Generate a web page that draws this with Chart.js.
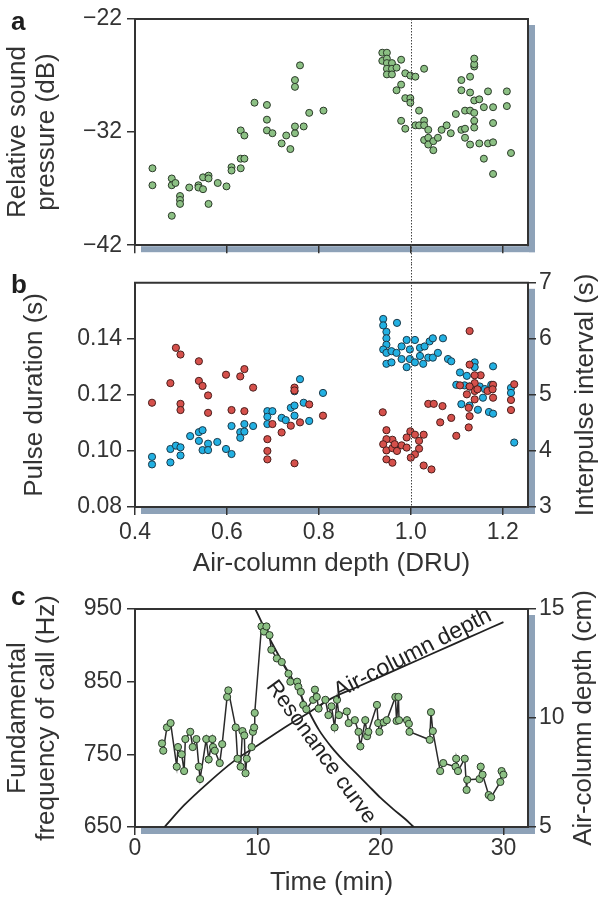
<!DOCTYPE html>
<html><head><meta charset="utf-8">
<script src="https://cdn.jsdelivr.net/npm/chart.js@4.4.1/dist/chart.umd.min.js"></script>
<style>
html,body{margin:0;padding:0;background:#fff;}
#wrap{position:relative;width:600px;height:897px;overflow:hidden;background:#fff;}
canvas{position:absolute;left:0;}
.lbl{position:absolute;z-index:5;font-family:"Liberation Sans",Arial,sans-serif;font-weight:bold;font-size:26px;line-height:26px;color:#1e1e1e;}
</style></head><body>
<div id="wrap">
<canvas id="ca" width="600" height="264" style="top:0px"></canvas>
<canvas id="cb" width="600" height="326" style="top:264px"></canvas>
<canvas id="cc" width="600" height="307" style="top:590px"></canvas>
<div class="lbl" style="left:11px;top:8px">a</div>
<div class="lbl" style="left:11px;top:271px">b</div>
<div class="lbl" style="left:11px;top:583px">c</div>
</div>
<script>
// ---------- Panel a: relative sound pressure vs air-column depth ----------
const aDepth = [0.438,0.438,0.480,0.480,0.488,0.480,0.498,0.498,0.498,0.518,0.538,0.538,0.548,0.548,0.560,0.560,0.560,0.580,0.599,0.610,0.610,0.630,0.638,0.630,0.630,0.638,0.660,0.687,0.687,0.687,0.699,0.719,0.729,0.738,0.748,0.748,0.748,0.748,0.759,0.767,0.779,0.810,
  0.938,0.948,0.938,0.948,0.948,0.959,0.948,0.959,0.969,0.948,0.959,0.979,0.988,0.999,1.010,1.029,0.979,0.969,0.988,0.999,0.999,1.018,0.979,0.988,1.010,1.018,1.029,1.029,1.038,1.029,1.038,1.038,1.049,1.049,1.059,1.067,1.078,1.087,1.098,1.110,1.110,1.110,1.118,1.118,1.118,1.129,1.129,1.129,1.129,1.138,1.138,1.138,1.138,1.138,1.138,1.138,1.149,1.149,1.159,1.159,1.168,1.168,1.179,1.179,1.179,1.179,1.209,1.209,1.218];
const aPressure = [-35.2,-36.7,-36.1,-36.7,-36.5,-39.4,-37.65,-38.0,-38.35,-36.9,-36.7,-36.9,-37.05,-36.0,-35.85,-36.1,-38.35,-36.5,-36.8,-35.1,-35.4,-34.35,-34.35,-35.2,-31.85,-32.3,-29.4,-29.6,-30.9,-31.85,-32.1,-33.0,-32.3,-33.5,-32.1,-31.5,-28.0,-27.4,-26.1,-31.5,-30.3,-30.1,
  -24.98,-24.98,-25.7,-25.5,-25.9,-25.9,-26.4,-26.4,-26.3,-26.9,-26.9,-25.6,-26.8,-27.0,-27.1,-26.4,-27.8,-28.3,-29.0,-29.0,-29.4,-30.1,-31.0,-31.7,-31.4,-31.4,-30.98,-31.4,-31.8,-32.7,-32.5,-33.1,-32.8,-33.6,-32.5,-31.8,-31.4,-32.1,-30.4,-31.8,-28.3,-27.4,-32.5,-31.7,-30.1,-30.1,-28.5,-27.1,-33.1,-30.3,-29.2,-26.2,-26.0,-25.5,-31.0,-31.6,-29.1,-33.0,-29.8,-34.35,-28.4,-33.0,-29.8,-31.2,-32.9,-35.7,-28.4,-29.7,-33.85];
const aYTicks = [-42,-32,-22];
const depthTicks = [0.4,0.6,0.8,1.0,1.2];

// ---------- Panel b: pulse duration (blue, left) and interpulse interval (red, right) ----------
const bBlueDepth = [0.437,0.437,0.477,0.477,0.489,0.499,0.499,0.520,0.539,0.539,0.547,0.547,0.559,0.559,0.579,0.598,0.610,0.610,0.629,0.629,0.638,0.638,0.657,0.688,0.688,0.688,0.699,0.719,0.728,0.739,0.747,0.747,0.747,0.759,0.767,0.779,0.809,
  0.940,0.940,0.947,0.947,0.947,0.970,0.940,0.947,0.958,0.969,0.980,0.991,0.998,1.009,1.020,1.030,1.041,1.048,1.070,1.020,1.038,1.048,1.059,0.947,0.958,0.991,0.980,0.998,1.009,1.027,1.081,1.088,1.107,1.122,1.139,1.139,1.179,1.099,1.117,1.128,1.150,1.161,1.175,1.110,1.128,1.146,1.157,1.170,1.179,1.218,1.218,1.225];
const bPulseDuration = [0.0979,0.0952,0.0959,0.1007,0.1019,0.1013,0.0984,0.1053,0.1036,0.1067,0.1074,0.1003,0.1026,0.1003,0.1032,0.1007,0.1089,0.0989,0.1067,0.1047,0.1096,0.1069,0.1089,0.1142,0.1122,0.1096,0.1142,0.1118,0.1110,0.1154,0.1162,0.1126,0.1213,0.1256,0.1172,0.1107,0.1207,
  0.1471,0.1448,0.1425,0.1402,0.1379,0.1457,0.1362,0.1350,0.1356,0.1350,0.1373,0.1396,0.1362,0.1396,0.1368,0.1373,0.1391,0.1402,0.1402,0.1339,0.1333,0.1333,0.1350,0.1311,0.1316,0.1299,0.1328,0.1328,0.1316,0.1311,0.1328,0.1320,0.1280,0.1268,0.1316,0.1299,0.1302,0.1236,0.1234,0.1230,0.1230,0.1221,0.1236,0.1167,0.1162,0.1147,0.1190,0.1139,0.1133,0.1225,0.1207,0.1030];
const bRedDepth = [0.437,0.489,0.499,0.477,0.499,0.499,0.539,0.539,0.547,0.559,0.559,0.598,0.610,0.629,0.638,0.638,0.657,0.688,0.688,0.688,0.699,0.719,0.739,0.747,0.747,0.747,0.759,0.779,0.809,
  0.939,0.947,0.960,0.947,0.940,0.947,0.960,0.970,0.980,0.991,0.991,0.999,1.009,1.018,1.028,1.018,1.009,1.000,0.947,0.960,1.028,1.045,0.965,1.038,1.050,1.069,1.064,1.088,1.099,1.126,1.128,1.128,1.128,1.152,1.139,1.139,1.139,1.139,1.107,1.122,1.128,1.126,1.167,1.179,1.179,1.218,1.218,1.225,1.145,1.178];
const bInterval = [4.86,5.84,5.72,5.21,4.84,4.73,5.60,5.25,5.16,4.99,4.68,5.36,4.73,5.33,5.46,4.71,5.13,4.21,4.00,3.85,4.48,4.33,4.45,3.78,5.13,5.08,4.51,4.83,4.63,
  4.69,4.37,4.20,4.21,4.12,4.01,4.05,4.00,4.10,4.06,4.24,4.35,4.29,4.18,4.29,4.04,3.94,3.88,3.85,3.79,3.74,3.67,4.12,4.84,4.84,4.80,4.51,4.59,4.27,4.42,4.62,6.14,5.54,5.35,5.35,5.21,5.07,4.92,5.17,5.01,5.15,4.77,5.07,5.18,4.95,4.91,4.73,5.19,5.10,5.10];
const bLeftTicks = [0.08,0.10,0.12,0.14];
const bRightTicks = [3,4,5,6,7];

// ---------- Panel c: call frequency over time, air-column depth and resonance curve ----------
const cTime = [2.2,2.3,2.6,2.9,3.4,3.5,3.8,4.0,4.1,4.5,4.7,5.0,5.2,5.3,5.8,6.0,6.3,6.35,6.5,6.9,7.1,7.5,7.6,8.2,8.35,8.6,8.75,8.9,9.0,9.1,9.5,9.6,9.7,9.75,10.3,10.5,10.7,10.95,11.1,11.55,11.95,12.5,12.65,13.2,13.3,13.5,13.7,13.95,14.5,14.65,14.8,14.95,15.5,15.75,16.0,16.25,16.45,16.6,17.25,17.4,17.9,18.2,18.35,18.75,18.9,19.0,19.7,19.8,19.9,20.25,20.5,21.2,21.3,21.45,21.5,22.15,22.3,22.35,24.0,24.1,24.25,24.85,25.1,26.1,26.15,26.3,26.85,27.0,27.05,28.05,28.15,28.3,28.8,29.0,29.75,29.85,30.0];
const cFreq = [765,755,787,793,733,760,750,727,771,781,760,771,733,716,771,743,771,760,755,738,764,829,838,787,744,733,782,776,724,744,760,781,787,807,926,919,926,914,894,882,877,861,850,850,843,836,818,812,825,839,829,813,825,804,816,787,825,804,809,793,797,781,761,797,775,781,818,793,781,794,797,829,796,829,797,797,792,781,770,808,782,727,738,733,744,727,744,701,715,716,733,722,694,691,712,727,722];
const depthCurveTime = [2.4,4,6,8,10,12,14,16,18,20,22,24,26,28,30];
const depthCurveCm = [5.0,6.0,7.05,8.0,8.75,9.5,10.2,10.9,11.4,11.9,12.4,12.9,13.4,13.9,14.4];
const resCurveTime = [9.8,11,12,13,14,15,16,17,18,19,20,21,22,22.7];
const resCurveHz = [950,908,877,848,814,783,760,741,724,707,690,675,661,650];
const cXTicks = [0,10,20,30];
const cLeftTicks = [650,750,850,950];
const cRightTicks = [5,10,15];

// ---------- styling ----------
const FONT = "'Liberation Sans', Arial, Helvetica, sans-serif";
const INK = '#333333';
const GREEN = '#8cc084', GREEN_EDGE = '#2b3a29';
const BLUE = '#22b0e2', BLUE_EDGE = '#1c3a4a';
const RED = '#d5504b', RED_EDGE = '#4a1e1c';
const SHADOW = '#8ea2b8';
const TICK_FONT = {family: FONT, size: 23};
const TITLE_FONT = {family: FONT, size: 26, lineHeight: 1.12};

const frame = {
  id: 'frame',
  beforeDraw(chart) {
    const {ctx, chartArea: {left, top, right, bottom}} = chart;
    ctx.save();
    ctx.fillStyle = SHADOW;
    ctx.fillRect(right + 1, top + 6, 6, bottom - top + 1);
    ctx.fillRect(left + 6, bottom + 1, right - left + 1, 6);
    ctx.restore();
  },
  afterDraw(chart) {
    const {ctx, chartArea: {left, top, right, bottom}} = chart;
    ctx.save();
    ctx.strokeStyle = INK; ctx.lineWidth = 2;
    ctx.beginPath();
    ctx.moveTo(left - 1, top); ctx.lineTo(right, top); ctx.lineTo(right, bottom + 1);
    ctx.stroke();
    ctx.restore();
  }
};

const refLine = {
  id: 'refLine',
  afterDatasetsDraw(chart, args, o) {
    if (o.value === undefined || o.value === null) return;
    const {ctx, chartArea} = chart;
    const x = Math.round(chart.scales.x.getPixelForValue(o.value)) + 0.5;
    const y0 = o.fromCanvasTop ? 0 : chartArea.top;
    const y1 = o.toCanvasBottom ? chart.height : chartArea.bottom;
    ctx.save();
    ctx.strokeStyle = '#444'; ctx.lineWidth = 1; ctx.setLineDash([1.5, 1.5]);
    ctx.beginPath(); ctx.moveTo(x, y0); ctx.lineTo(x, y1); ctx.stroke();
    ctx.restore();
  }
};

const sideTitle = {
  id: 'sideTitle',
  afterDraw(chart, args, o) {
    if (!o.text) return;
    const {ctx, chartArea} = chart;
    ctx.save();
    ctx.translate(chart.width - o.inset, (chartArea.top + chartArea.bottom) / 2);
    ctx.rotate(-Math.PI / 2);
    ctx.font = `${TITLE_FONT.size}px ${FONT}`;
    ctx.fillStyle = INK; ctx.textAlign = 'center'; ctx.textBaseline = 'middle';
    ctx.fillText(o.text, 0, 0);
    ctx.restore();
  }
};

const curveLabels = {
  id: 'curveLabels',
  afterDatasetsDraw(chart, args, o) {
    if (!o.items) return;
    const {ctx} = chart;
    for (const it of o.items) {
      const x = chart.scales.x.getPixelForValue(it.x);
      const y = chart.scales[it.axis].getPixelForValue(it.y);
      ctx.save();
      ctx.translate(x, y);
      ctx.rotate(it.angle * Math.PI / 180);
      ctx.font = `${it.size}px ${FONT}`;
      ctx.fillStyle = '#222'; ctx.textAlign = 'center'; ctx.textBaseline = 'middle';
      ctx.fillText(it.text, 0, 0);
      ctx.restore();
    }
  }
};

Chart.register(frame, refLine, sideTitle, curveLabels);

function fixed(list) { return s => { s.ticks = list.map(v => ({value: v})); }; }
function gridOpts() { return {drawOnChartArea: false, drawTicks: true, tickLength: 8, color: INK, lineWidth: 1.5}; }
function borderOpts() { return {display: true, color: INK, width: 2}; }
const minus = v => String(v).replace('-', '\u2212');
const pts = (xs, ys) => xs.map((x, i) => ({x: x, y: ys[i]}));
const baseOpts = {responsive: false, animation: false, events: []};

// ---------- chart a ----------
new Chart(document.getElementById('ca'), {
  type: 'scatter',
  data: {datasets: [{
    data: pts(aDepth, aPressure),
    pointRadius: 3.5, pointBackgroundColor: GREEN, pointBorderColor: GREEN_EDGE, pointBorderWidth: 1
  }]},
  options: Object.assign({}, baseOpts, {
    layout: {padding: {left: 0, right: 72, top: 19, bottom: 0}},
    plugins: {legend: {display: false}, tooltip: {enabled: false},
      refLine: {value: 1.0, fromCanvasTop: false, toCanvasBottom: true}},
    scales: {
      x: {type: 'linear', min: 0.4, max: 1.255, afterBuildTicks: fixed(depthTicks),
          ticks: {display: false}, grid: gridOpts(), border: borderOpts(),
          afterFit: s => { s.height = 15; }},
      y: {type: 'linear', min: -42, max: -22, afterBuildTicks: fixed(aYTicks),
          ticks: {color: INK, font: TICK_FONT, padding: 5, autoSkip: false, callback: v => minus(v)},
          grid: gridOpts(), border: borderOpts(),
          title: {display: true, text: ['Relative sound', 'pressure (dB)'], color: INK, font: TITLE_FONT, padding: {top: 3, bottom: 0}},
          afterFit: s => { s.width = 135; }}
    }
  })
});

// ---------- chart b ----------
new Chart(document.getElementById('cb'), {
  type: 'scatter',
  data: {datasets: [
    {data: pts(bRedDepth, bInterval), yAxisID: 'y2',
     pointRadius: 3.6, pointBackgroundColor: RED, pointBorderColor: RED_EDGE, pointBorderWidth: 1},
    {data: pts(bBlueDepth, bPulseDuration), yAxisID: 'y',
     pointRadius: 3.6, pointBackgroundColor: BLUE, pointBorderColor: BLUE_EDGE, pointBorderWidth: 1}
  ]},
  options: Object.assign({}, baseOpts, {
    layout: {padding: {left: 0, right: 0, top: 10, bottom: 0}},
    plugins: {legend: {display: false}, tooltip: {enabled: false},
      refLine: {value: 1.0, fromCanvasTop: true, toCanvasBottom: false},
      sideTitle: {text: 'Interpulse interval (s)', inset: 14}},
    scales: {
      x: {type: 'linear', min: 0.4, max: 1.255, afterBuildTicks: fixed(depthTicks),
          ticks: {color: INK, font: TICK_FONT, padding: 4, autoSkip: false, maxRotation: 0, callback: v => v.toFixed(1)},
          grid: gridOpts(), border: borderOpts(),
          title: {display: true, text: 'Air-column depth (DRU)', color: INK, font: TITLE_FONT, padding: {top: 0, bottom: 12}},
          afterFit: s => { s.height = 83; }},
      y: {type: 'linear', position: 'left', min: 0.08, max: 0.16, afterBuildTicks: fixed(bLeftTicks),
          ticks: {color: INK, font: TICK_FONT, padding: 5, autoSkip: false, callback: v => v.toFixed(2)},
          grid: gridOpts(), border: borderOpts(),
          title: {display: true, text: 'Pulse duration (s)', color: INK, font: TITLE_FONT, padding: {top: 20, bottom: 0}},
          afterFit: s => { s.width = 135; }},
      y2: {type: 'linear', position: 'right', min: 3, max: 7, afterBuildTicks: fixed(bRightTicks),
          ticks: {color: INK, font: TICK_FONT, padding: 3, autoSkip: false},
          grid: gridOpts(), border: borderOpts(),
          afterFit: s => { s.width = 72; }}
    }
  })
});

// ---------- chart c ----------
new Chart(document.getElementById('cc'), {
  type: 'scatter',
  data: {datasets: [
    {label: 'call', data: pts(cTime, cFreq), yAxisID: 'y', showLine: true, order: 0,
     borderColor: '#2a2a2a', borderWidth: 1.5, tension: 0,
     pointRadius: 3.6, pointBackgroundColor: GREEN, pointBorderColor: GREEN_EDGE, pointBorderWidth: 1},
    {label: 'Resonance curve', data: pts(resCurveTime, resCurveHz), yAxisID: 'y', showLine: true, order: 1,
     borderColor: '#222', borderWidth: 1.8, pointRadius: 0, cubicInterpolationMode: 'monotone'},
    {label: 'Air-column depth', data: pts(depthCurveTime, depthCurveCm), yAxisID: 'y2', showLine: true, order: 1,
     borderColor: '#222', borderWidth: 1.8, pointRadius: 0, cubicInterpolationMode: 'monotone'}
  ]},
  options: Object.assign({}, baseOpts, {
    layout: {padding: {left: 0, right: 0, top: 19, bottom: 0}},
    plugins: {legend: {display: false}, tooltip: {enabled: false},
      sideTitle: {text: 'Air-column depth (cm)', inset: 16},
      curveLabels: {items: [
        {text: 'Air-column depth', x: 22.6, y: 12.95, axis: 'y2', angle: -27, size: 23},
        {text: 'Resonance curve', x: 15.15, y: 753, axis: 'y', angle: 54, size: 22}
      ]}},
    scales: {
      x: {type: 'linear', min: 0, max: 32, afterBuildTicks: fixed(cXTicks),
          ticks: {color: INK, font: TICK_FONT, padding: 0, autoSkip: false, maxRotation: 0},
          grid: gridOpts(), border: borderOpts(),
          title: {display: true, text: 'Time (min)', color: INK, font: TITLE_FONT, padding: {top: 0, bottom: 0}},
          afterFit: s => { s.height = 70; }},
      y: {type: 'linear', position: 'left', min: 650, max: 950, afterBuildTicks: fixed(cLeftTicks),
          ticks: {color: INK, font: TICK_FONT, padding: 5, autoSkip: false},
          grid: gridOpts(), border: borderOpts(),
          title: {display: true, text: ['Fundamental', 'frequency of call (Hz)'], color: INK, font: TITLE_FONT, padding: {top: 3, bottom: 0}},
          afterFit: s => { s.width = 135; }},
      y2: {type: 'linear', position: 'right', min: 5, max: 15, afterBuildTicks: fixed(cRightTicks),
          ticks: {color: INK, font: TICK_FONT, padding: 3, autoSkip: false},
          grid: gridOpts(), border: borderOpts(),
          afterFit: s => { s.width = 72; }}
    }
  })
});
</script>
</body></html>
